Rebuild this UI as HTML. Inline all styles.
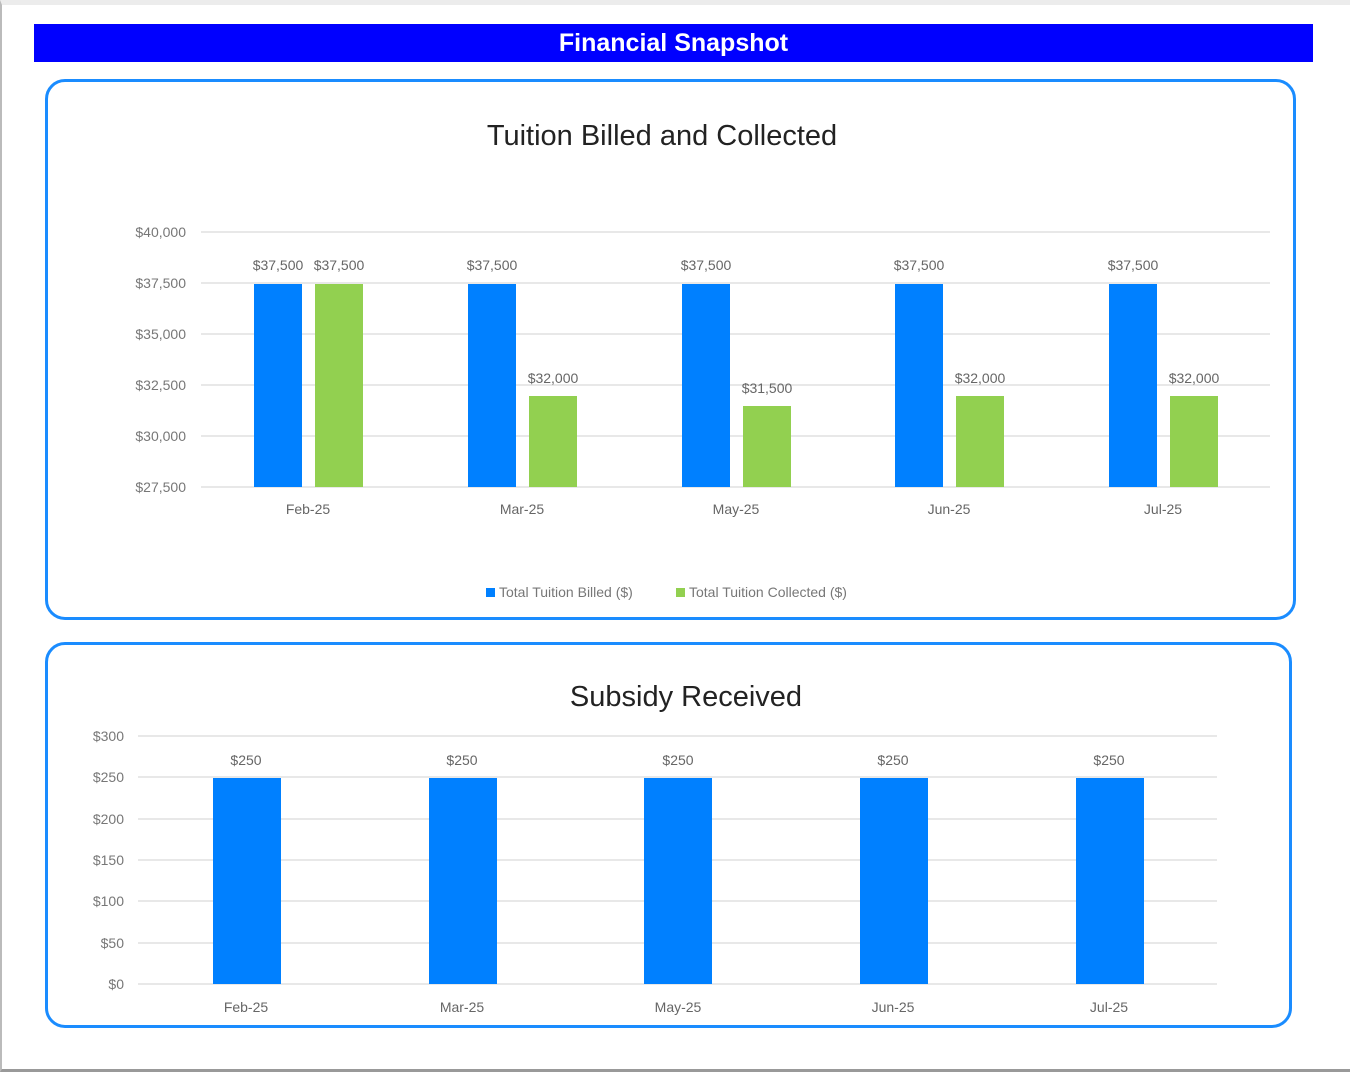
<!DOCTYPE html>
<html><head><style>
body{margin:0;width:1350px;height:1072px;background:#fff;position:relative;overflow:hidden;font-family:"Liberation Sans",sans-serif}
.frame{position:absolute;left:0;top:0;width:1350px;height:1072px;box-sizing:border-box;border-top:5px solid #ececec;border-left:2px solid #bbb;border-bottom:3px solid #999}
.hdr{position:absolute;left:34px;top:24px;width:1279px;height:38px;background:#0000ff;color:#fff;font-weight:bold;font-size:25px;text-align:center;line-height:38px}
.box{position:absolute;border:3px solid #1a8cff;border-radius:20px;box-sizing:border-box}
svg{position:absolute;left:0;top:0}
</style></head><body>
<div class="frame"></div>
<div class="hdr">Financial Snapshot</div>
<div class="box" style="left:45px;top:79px;width:1251px;height:541px"></div>
<div class="box" style="left:45px;top:642px;width:1247px;height:386px"></div>
<svg width="1350" height="1072" font-family="Liberation Sans, sans-serif">
<text x="662" y="145" font-size="29" text-anchor="middle" fill="#222">Tuition Billed and Collected</text>
<g stroke="#e0e0e0" stroke-width="1.5">
<line x1="201" x2="1270" y1="232" y2="232"/><line x1="201" x2="1270" y1="283" y2="283"/><line x1="201" x2="1270" y1="334" y2="334"/><line x1="201" x2="1270" y1="385" y2="385"/><line x1="201" x2="1270" y1="436" y2="436"/><line x1="201" x2="1270" y1="487" y2="487"/>
</g>
<g font-size="14" fill="#777" text-anchor="end">
<text x="186" y="237">$40,000</text><text x="186" y="288">$37,500</text><text x="186" y="339">$35,000</text><text x="186" y="390">$32,500</text><text x="186" y="441">$30,000</text><text x="186" y="492">$27,500</text>
</g>
<g fill="#0080ff">
<rect x="254" y="284" width="48" height="203"/><rect x="468" y="284" width="48" height="203"/><rect x="682" y="284" width="48" height="203"/><rect x="895" y="284" width="48" height="203"/><rect x="1109" y="284" width="48" height="203"/>
</g>
<g fill="#92d050">
<rect x="315" y="284" width="48" height="203"/><rect x="529" y="396" width="48" height="91"/><rect x="743" y="406" width="48" height="81"/><rect x="956" y="396" width="48" height="91"/><rect x="1170" y="396" width="48" height="91"/>
</g>
<g font-size="14" fill="#666" text-anchor="middle">
<text x="278" y="270">$37,500</text><text x="339" y="270">$37,500</text>
<text x="492" y="270">$37,500</text><text x="553" y="383">$32,000</text>
<text x="706" y="270">$37,500</text><text x="767" y="393">$31,500</text>
<text x="919" y="270">$37,500</text><text x="980" y="383">$32,000</text>
<text x="1133" y="270">$37,500</text><text x="1194" y="383">$32,000</text>
<text x="308" y="514">Feb-25</text><text x="522" y="514">Mar-25</text><text x="736" y="514">May-25</text><text x="949" y="514">Jun-25</text><text x="1163" y="514">Jul-25</text>
</g>
<rect x="486" y="588" width="9" height="9" fill="#0080ff"/>
<text x="499" y="597" font-size="14" fill="#777">Total Tuition Billed ($)</text>
<rect x="676" y="588" width="9" height="9" fill="#92d050"/>
<text x="689" y="597" font-size="14" fill="#777">Total Tuition Collected ($)</text>

<text x="686" y="706" font-size="29" text-anchor="middle" fill="#222">Subsidy Received</text>
<g stroke="#e0e0e0" stroke-width="1.5">
<line x1="138" x2="1217" y1="736" y2="736"/><line x1="138" x2="1217" y1="777" y2="777"/><line x1="138" x2="1217" y1="819" y2="819"/><line x1="138" x2="1217" y1="860" y2="860"/><line x1="138" x2="1217" y1="901" y2="901"/><line x1="138" x2="1217" y1="943" y2="943"/><line x1="138" x2="1217" y1="984" y2="984"/>
</g>
<g font-size="14" fill="#777" text-anchor="end">
<text x="124" y="741">$300</text><text x="124" y="782">$250</text><text x="124" y="824">$200</text><text x="124" y="865">$150</text><text x="124" y="906">$100</text><text x="124" y="948">$50</text><text x="124" y="989">$0</text>
</g>
<g fill="#0080ff">
<rect x="213" y="778" width="68" height="206"/><rect x="429" y="778" width="68" height="206"/><rect x="644" y="778" width="68" height="206"/><rect x="860" y="778" width="68" height="206"/><rect x="1076" y="778" width="68" height="206"/>
</g>
<g font-size="14" fill="#666" text-anchor="middle">
<text x="246" y="765">$250</text><text x="462" y="765">$250</text><text x="678" y="765">$250</text><text x="893" y="765">$250</text><text x="1109" y="765">$250</text>
<text x="246" y="1012">Feb-25</text><text x="462" y="1012">Mar-25</text><text x="678" y="1012">May-25</text><text x="893" y="1012">Jun-25</text><text x="1109" y="1012">Jul-25</text>
</g>
</svg>
</body></html>
